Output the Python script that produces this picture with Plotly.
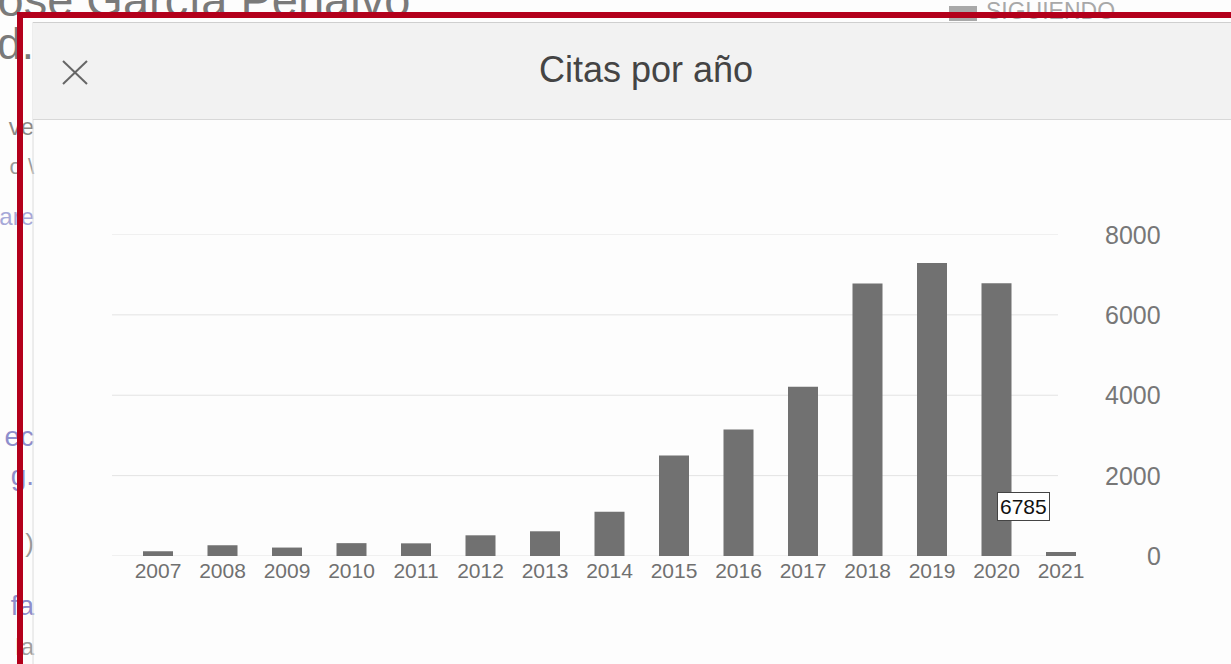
import plotly.graph_objects as go

# ---------------- data ----------------
years = ["2007", "2008", "2009", "2010", "2011", "2012", "2013", "2014",
         "2015", "2016", "2017", "2018", "2019", "2020", "2021"]
citations = [120, 265, 210, 320, 315, 515, 615, 1100,
             2500, 3150, 4210, 6780, 7290, 6785, 100]
y_ticks = [0, 2000, 4000, 6000, 8000]
y_tick_labels = ["0", "2000", "4000", "6000", "8000"]
title_text = "Citas por año"
tooltip_year = "2020"

# background page fragments (decoration behind the dialog)
bg_texts = ["José García Peñalvo", "d.", "ve", "o \\", "are", "ec", "g.", ")", "fa", "la", "SIGUIENDO"]

# ---------------- geometry helpers ----------------
W, H = 1231, 664
FONT = "Liberation Sans, Arial, sans-serif"


def px(x):
    return x / W


def py(y):
    return 1 - y / H


fig = go.Figure()

fig.add_trace(go.Bar(
    x=years, y=citations,
    marker=dict(color="#717171", line=dict(width=0)),
    width=0.465, hoverinfo="skip", showlegend=False,
))

# background text as a text trace on a full-page pixel axis
bg_x = [-26, 34, 34, 34, 34, 34, 34, 34, 34, 34, 986]
bg_y = [4, 48, 129, 168, 219, 439, 478, 545, 608, 649, 13]
bg_pos = ["middle right", "middle left", "middle left", "middle left", "middle left",
          "middle left", "middle left", "middle left", "middle left", "middle left",
          "middle right"]
bg_col = ["#7a7a7a", "#7a7a7a", "#8a8a8a", "#9a9a9a", "#a6a8d8", "#8e8ecc",
          "#8e8ecc", "#9a9a9a", "#8e8ecc", "#a0a0a0", "#a8a8a8"]
bg_size = [47, 44, 24, 22, 24, 28, 28, 26, 28, 24, 23]
fig.add_trace(go.Scatter(
    x=bg_x, y=bg_y, mode="text", text=bg_texts, textposition=bg_pos,
    textfont=dict(family=FONT, color=bg_col, size=bg_size),
    xaxis="x2", yaxis="y2", hoverinfo="skip", showlegend=False, cliponaxis=True,
))

shapes = []
# "SIGUIENDO" icon
shapes.append(dict(type="rect", xref="paper", yref="paper",
                   x0=px(949), x1=px(977), y0=py(6), y1=py(21),
                   fillcolor="#a9a9a9", line=dict(width=0), layer="below"))
# gridlines
for v in y_ticks:
    shapes.append(dict(type="line", xref="paper", yref="y",
                       x0=px(112), x1=px(1058), y0=v, y1=v,
                       line=dict(color="#e3e3e3", width=1), layer="below"))
# dialog left edge
shapes.append(dict(type="line", xref="paper", yref="paper",
                   x0=px(33), x1=px(33), y0=py(22), y1=py(700),
                   line=dict(color="#dcdcdc", width=1), layer="above"))
# dialog header
shapes.append(dict(type="rect", xref="paper", yref="paper",
                   x0=px(33), x1=px(1240), y0=py(22), y1=py(119),
                   fillcolor="#f2f2f2", line=dict(width=0), layer="above"))
shapes.append(dict(type="line", xref="paper", yref="paper",
                   x0=px(33), x1=px(1240), y0=py(22.5), y1=py(22.5),
                   line=dict(color="#cfcfcf", width=1), layer="above"))
shapes.append(dict(type="line", xref="paper", yref="paper",
                   x0=px(33), x1=px(1240), y0=py(119.5), y1=py(119.5),
                   line=dict(color="#d8d8d8", width=1), layer="above"))
# close icon
shapes.append(dict(type="line", xref="paper", yref="paper",
                   x0=px(63), x1=px(87), y0=py(61), y1=py(84),
                   line=dict(color="#666666", width=2), layer="above"))
shapes.append(dict(type="line", xref="paper", yref="paper",
                   x0=px(63), x1=px(87), y0=py(84), y1=py(61),
                   line=dict(color="#666666", width=2), layer="above"))
# red highlight frame
shapes.append(dict(type="rect", xref="paper", yref="paper",
                   x0=px(20), x1=px(1260), y0=py(15), y1=py(700),
                   fillcolor="rgba(0,0,0,0)",
                   line=dict(color="#b3001b", width=6), layer="above"))

annotations = []
annotations.append(dict(text=title_text, xref="paper", yref="paper",
                        x=px(646), y=py(70), xanchor="center", yanchor="middle",
                        showarrow=False, font=dict(family=FONT, size=36, color="#444444")))
for v, lab in zip(y_ticks, y_tick_labels):
    annotations.append(dict(text=lab, xref="paper", yref="y", x=px(1163), y=v,
                            xanchor="right", yanchor="middle", showarrow=False,
                            font=dict(family=FONT, size=25, color="#777777")))
annotations.append(dict(text=str(citations[years.index(tooltip_year)]),
                        xref="x", yref="paper", x=years.index(tooltip_year), xshift=27,
                        y=py(507), xanchor="center", yanchor="middle", showarrow=False,
                        bgcolor="#ffffff", bordercolor="#444444", borderwidth=1, borderpad=2,
                        font=dict(family=FONT, size=21, color="#111111")))

fig.update_layout(
    width=W, height=H,
    margin=dict(l=0, r=0, t=0, b=0),
    paper_bgcolor="#fdfdfd", plot_bgcolor="rgba(0,0,0,0)",
    showlegend=False, bargap=0.5,
    xaxis=dict(domain=[px(125.75), px(1093.25)], type="category",
               range=[-0.5, 14.5], showgrid=False, zeroline=False, showline=False,
               ticks="", tickfont=dict(family=FONT, size=21, color="#707070"),
               fixedrange=True, anchor="y"),
    yaxis=dict(domain=[py(556), py(234.5)], range=[0, 8000], showgrid=False,
               zeroline=False, showline=False, showticklabels=False,
               fixedrange=True, anchor="x"),
    xaxis2=dict(domain=[0, 1], range=[0, W], visible=False, anchor="y2", fixedrange=True),
    yaxis2=dict(domain=[0, 1], range=[H, 0], visible=False, anchor="x2", fixedrange=True),
    shapes=shapes, annotations=annotations,
)

fig.write_html("out.html",
               config={"displayModeBar": False},
               post_script="document.body.style.margin='0';document.body.style.overflow='hidden';")
